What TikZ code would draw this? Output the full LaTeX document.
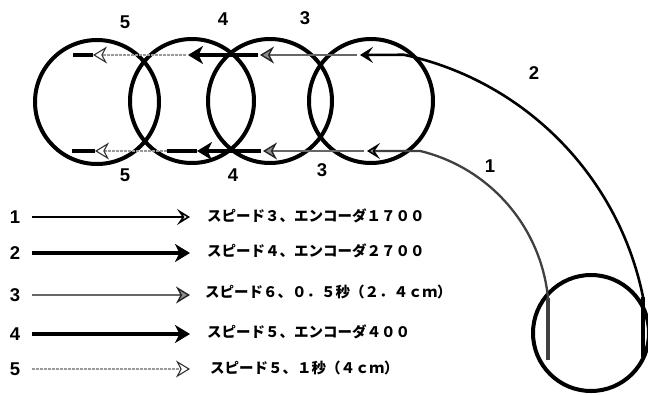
\documentclass[tikz,border=0pt]{standalone}
\usepackage{fontspec}
\setmainfont{Liberation Sans}
\newfontfamily\jp{Noto Sans CJK JP}
\usetikzlibrary{arrows.meta}
\begin{document}
\begin{tikzpicture}[x=1pt,y=-1pt,
  ring/.style={line width=4pt},
  num/.style={font=\fontsize{18.5}{18.5}\selectfont\bfseries, inner sep=0pt},
  txt/.style={font=\jp\bfseries\fontsize{14.5}{14.5}\selectfont, anchor=west, inner sep=0pt},
  tipone/.tip={Stealth[length=13pt,width=16pt,inset=5.5pt,line width=1.6pt,fill=white]},
  tiptwo/.tip={Stealth[length=15pt,width=18pt,inset=4.5pt]},
  tipthree/.tip={Stealth[length=14pt,width=17pt,inset=4.5pt,line width=1.4pt,fill=black!45]},
  tipfive/.tip={Stealth[length=14pt,width=17pt,inset=4.5pt,line width=1.1pt,fill=white,color=black!80]},
  lineone/.style={line width=2pt, -tipone},
  linetwo/.style={line width=3.2pt, -tiptwo},
  linethree/.style={line width=2.4pt, black!60, -{tipthree[color=black!85]}},
  linefive/.style={line width=2pt, black!40, dash pattern=on 3pt off 1pt, -tipfive},
  stub/.style={line width=4.5pt, line cap=butt},
]
\useasboundingbox (0,0) rectangle (648,394);

% circles
\draw[ring] (97,102) circle[radius=62];
\draw[ring] (192,101) circle[radius=62];
\draw[ring] (270,101) circle[radius=62];
\draw[ring] (371,101) circle[radius=62];
\draw[ring] (591,333) circle[radius=58];

% coordinates
\coordinate (ob) at (643,297);
\coordinate (ib) at (548,298);
\coordinate (t2) at (360,55);
\coordinate (t3) at (260,55);
\coordinate (t4) at (188,55);
\coordinate (t5) at (93,55);
\coordinate (t0) at (73,55);
\coordinate (b1) at (367,151);
\coordinate (b3) at (263,151);
\coordinate (b4) at (197,151);
\coordinate (b4s) at (167,151);
\coordinate (b5) at (95,151);
\coordinate (b0) at (72,151);

% bars in bottom circle
\draw[stub, black!75] (548,298) -- (548,360);
\draw[stub] (643,297) -- (643,357);

% curve 2 (outer)
\draw[line width=2.6pt, -{Stealth[length=13pt,width=16pt,inset=5.5pt]}]
  (ob) arc[start angle=-11.45, end angle=-77.8, radius=311] -- (t2);
% curve 1 (inner)
\draw[line width=2.3pt, black!75, -{Stealth[length=13pt,width=16pt,inset=5.5pt,line width=1.6pt,fill=black!40,color=black]}]
  (ib) arc[start angle=-5.66, end angle=-76.3, radius=168.4] -- (b1);

% top line
\draw[linethree] ([xshift=-3pt]t2) -- (t3);
\draw[linetwo] ([xshift=-2pt]t3) -- (t4);
\draw[linefive] ([xshift=-2pt]t4) -- (t5);
\draw[stub] (t0) -- (t5);

% bottom line
\draw[linethree] ([xshift=-3pt]b1) -- (b3);
\draw[linetwo] ([xshift=-2pt]b3) -- (b4);
\draw[stub] (b4) -- (b4s);
\draw[linefive] (b4s) -- (b5);
\draw[stub] (b0) -- (b5);

% diagram labels
\node[num] (lt5) at (125,22) {5};
\node[num] (lt4) at (223,19) {4};
\node[num] (lt3) at (305,18) {3};
\node[num] (lb5) at (125,175) {5};
\node[num] (lb4) at (233,175) {4};
\node[num] (lb3) at (322,170) {3};
\node[num] (l2) at (534,73) {2};
\node[num] (l1) at (490,166) {1};

% legend
\node[num] (n1) at (15,217) {1};
\node[num] (n2) at (15,253) {2};
\node[num] (n3) at (15,295) {3};
\node[num] (n4) at (15,334) {4};
\node[num] (n5) at (15,369) {5};
\node[txt] (x1) at (207,216) {スピード３、エンコーダ１７００};
\node[txt] (x2) at (207,251) {スピード４、エンコーダ２７００};
\node[txt] (x3) at (205,292) {スピード６、０．５秒（２．４ｃｍ）};
\node[txt] (x4) at (207,332) {スピード５、エンコーダ４００};
\node[txt] (x5) at (210,368) {スピード５、１秒（４ｃｍ）};
\draw[lineone] ([xshift=12pt]n1.east) -- ([xshift=-17pt]n1.east -| x1.west);
\draw[linetwo] ([xshift=12pt]n2.east) -- ([xshift=-17pt]n2.east -| x2.west);
\draw[linethree] ([xshift=12pt]n3.east) -- ([xshift=-15pt]n3.east -| x3.west);
\draw[linetwo] ([xshift=12pt]n4.east) -- ([xshift=-17pt]n4.east -| x4.west);
\draw[linefive] ([xshift=12pt]n5.east) -- ([xshift=-20pt]n5.east -| x5.west);
\end{tikzpicture}
\end{document}
